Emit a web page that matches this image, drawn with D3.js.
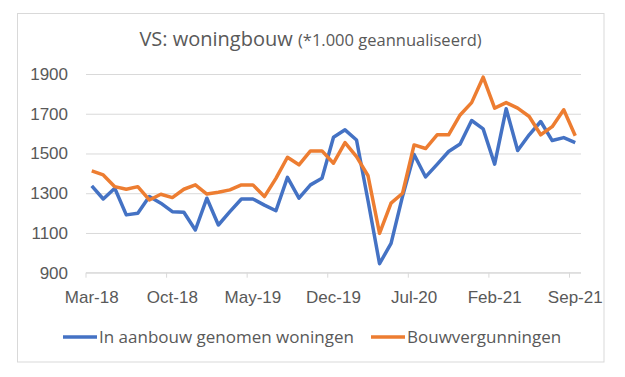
<!DOCTYPE html>
<html>
<head>
<meta charset="utf-8">
<script src="https://cdn.jsdelivr.net/npm/d3@7"></script>
<style>
  body { margin: 0; background: #fff; }
  svg { display: block; font-family: "Open Sans", sans-serif; }
  .tick text { fill: #595959; }
</style>
</head>
<body>
<svg id="chart" width="625" height="377"></svg>
<script>
// months, Mar-18 .. Sep-21
var months = ["Mar-18","Apr-18","May-18","Jun-18","Jul-18","Aug-18","Sep-18","Oct-18","Nov-18","Dec-18",
  "Jan-19","Feb-19","Mar-19","Apr-19","May-19","Jun-19","Jul-19","Aug-19","Sep-19","Oct-19","Nov-19","Dec-19",
  "Jan-20","Feb-20","Mar-20","Apr-20","May-20","Jun-20","Jul-20","Aug-20","Sep-20","Oct-20","Nov-20","Dec-20",
  "Jan-21","Feb-21","Mar-21","Apr-21","May-21","Jun-21","Jul-21","Aug-21","Sep-21"];

// In aanbouw genomen woningen (housing starts)
var starts = [1337,1271,1325,1191,1199,1283,1250,1207,1204,1115,
  1275,1140,1207,1271,1271,1240,1212,1380,1275,1342,1375,1582,
  1619,1568,1262,945,1048,1285,1495,1382,1445,1510,1548,1666,
  1624,1446,1725,1515,1594,1661,1565,1580,1555];

// Bouwvergunningen (building permits)
var permits = [1412,1392,1333,1320,1333,1266,1295,1278,1320,1342,
  1296,1305,1317,1342,1342,1283,1375,1481,1443,1513,1513,1451,
  1555,1484,1388,1098,1250,1300,1543,1525,1594,1594,1694,1756,
  1884,1728,1756,1728,1686,1594,1635,1720,1589];

var yTicks = [900,1100,1300,1500,1700,1900];
var seriesNames = ["In aanbouw genomen woningen", "Bouwvergunningen"];
var colors = ["#4472C4", "#ED7D31"];

const svg = d3.select("#chart");
const plot = { left: 86, right: 581, top: 74, bottom: 272.7 };

// outer frame
svg.append("rect")
  .attr("x", 17.5).attr("y", 13.5)
  .attr("width", 586.5).attr("height", 348.5)
  .attr("fill", "#fff")
  .attr("stroke", "#d9d9d9");

// title
const title = svg.append("text")
  .attr("x", 310.5).attr("y", 46)
  .attr("text-anchor", "middle")
  .attr("fill", "#595959");
title.append("tspan").attr("font-size", 20).text("VS: woningbouw ");
title.append("tspan").attr("font-size", 16.5).text("(*1.000 geannualiseerd)");

var x = d3.scaleBand()
  .domain(months)
  .range([plot.left, plot.right])
  .padding(0);

var y = d3.scaleLinear()
  .domain([900, 1900])
  .range([plot.bottom, plot.top]);

// y axis with gridlines
const yAxis = svg.append("g")
  .attr("transform", `translate(${plot.left},0)`)
  .call(d3.axisLeft(y).tickValues(yTicks).tickFormat(d3.format("d"))
    .tickSize(-(plot.right - plot.left)).tickPadding(18));
yAxis.select(".domain").remove();
yAxis.selectAll(".tick line").attr("stroke", "#d9d9d9").attr("stroke-width", 1);
yAxis.selectAll(".tick text").attr("font-size", 17);

// x axis line + labels
const labelMonths = months.filter((m, i) => i % 7 === 0);
const xAxis = svg.append("g")
  .attr("transform", `translate(0,${plot.bottom})`)
  .call(d3.axisBottom(x).tickValues(labelMonths).tickSize(0).tickPadding(18));
xAxis.select(".domain").attr("stroke", "#d9d9d9").attr("d", `M${plot.left},0H${plot.right}`);
xAxis.selectAll(".tick text").attr("font-size", 17);

// tick marks sit on the left edge of each labelled month
xAxis.selectAll("line.mark")
  .data(labelMonths)
  .enter()
  .append("line")
  .attr("class", "mark")
  .attr("x1", d => x(d)).attr("x2", d => x(d))
  .attr("y1", 0).attr("y2", 5)
  .attr("stroke", "#d9d9d9");

// lines
const line = d3.line()
  .x((d, i) => x(months[i]) + x.bandwidth() / 2)
  .y(d => y(d));

[starts, permits].forEach((values, k) => {
  svg.append("path")
    .datum(values)
    .attr("fill", "none")
    .attr("stroke", colors[k])
    .attr("stroke-width", 3.5)
    .attr("stroke-linejoin", "round")
    .attr("d", line);
});

// legend
const legendX = [63, 371];
seriesNames.forEach((name, k) => {
  const g = svg.append("g").attr("transform", `translate(${legendX[k]},337)`);
  g.append("line")
    .attr("x1", 0).attr("x2", 34)
    .attr("stroke", colors[k]).attr("stroke-width", 3.5);
  g.append("text")
    .attr("x", 36).attr("dy", "0.35em")
    .attr("font-size", 17)
    .attr("fill", "#595959")
    .text(name);
});
</script>
</body>
</html>
